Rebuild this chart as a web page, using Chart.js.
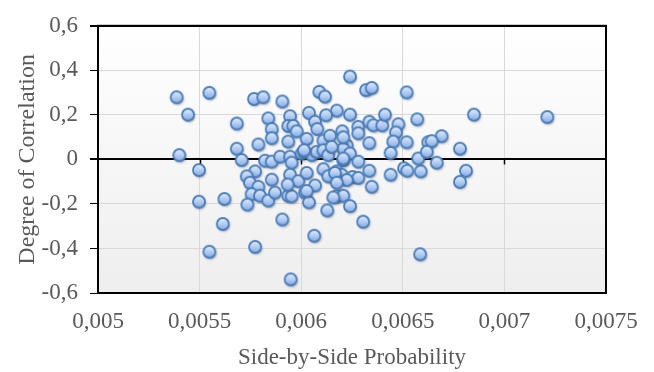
<!DOCTYPE html>
<html lang="en">
<head>
    <meta charset="UTF-8">
    <title>Side-by-Side Probability vs Degree of Correlation</title>
    <script src="https://cdn.jsdelivr.net/npm/chart.js"></script>
    <style>
        body { margin: 0; background: #fff; }
    </style>
</head>
<body>
    <canvas id="scatterChart" width="654" height="372"></canvas>
    <script>
        // values
        const sideBySide = [
            0.005387, 0.005548, 0.005443, 0.005400, 0.005497, 0.005497, 0.005622, 0.005614, 0.005548, 0.005683,
            0.005683, 0.005768, 0.005813, 0.005907, 0.006089, 0.006117, 0.005838, 0.005855, 0.005855, 0.005945,
            0.005936, 0.005961, 0.005978, 0.005936, 0.006038, 0.006068, 0.006079, 0.006027, 0.006109, 0.005789,
            0.005707, 0.005822, 0.005855, 0.005896, 0.005945, 0.005953, 0.006002, 0.006014, 0.006052, 0.006076,
            0.005773, 0.005732, 0.005748, 0.005789, 0.005855, 0.005945, 0.005986, 0.006027, 0.006109, 0.005756,
            0.005797, 0.005838, 0.005871, 0.005936, 0.005953, 0.006019, 0.006038, 0.006068, 0.005735, 0.006128,
            0.005907, 0.006064, 0.005773, 0.005948, 0.006240, 0.006319, 0.006347, 0.006519, 0.006175, 0.006240,
            0.006281, 0.006281, 0.006335, 0.006355, 0.006399, 0.006412, 0.006478, 0.006466, 0.006453, 0.006519,
            0.006571, 0.006625, 0.006335, 0.006440, 0.006202, 0.006224, 0.006207, 0.006240, 0.006207, 0.006281,
            0.006175, 0.006199, 0.006150, 0.006335, 0.006440, 0.006506, 0.006522, 0.006588, 0.006253, 0.006281,
            0.006224, 0.006347, 0.006175, 0.006207, 0.006240, 0.006305, 0.006585, 0.006850, 0.007211, 0.006691,
            0.006642, 0.006781, 0.006667, 0.006811, 0.006781, 0.006122, 0.006142, 0.006576, 0.006618, 0.006109,
            0.006133, 0.006150, 0.006133, 0.006166, 0.006175, 0.006158, 0.005933, 0.006027, 0.006207, 0.006014,
            0.006207
        ];
        const correlation = [
            0.279, 0.299, 0.201, 0.019, -0.048, -0.190, -0.178, -0.290, -0.415, 0.161,
            0.048, 0.271, 0.279, 0.260, 0.303, 0.282, 0.184, 0.136, 0.095, 0.194,
            0.150, 0.150, 0.126, 0.080, 0.209, 0.169, 0.136, 0.092, 0.084, 0.067,
            -0.003, -0.006, -0.010, 0.012, 0.012, -0.015, 0.026, 0.034, 0.019, 0.034,
            -0.054, -0.076, -0.105, -0.123, -0.091, -0.069, -0.098, -0.061, -0.044, -0.156,
            -0.163, -0.185, -0.149, -0.163, -0.166, -0.149, -0.193, -0.117, -0.203, -0.229,
            -0.270, -0.343, -0.393, -0.539, 0.372, 0.311, 0.321, 0.301, 0.219, 0.201,
            0.146, 0.117, 0.169, 0.153, 0.153, 0.201, 0.158, 0.121, 0.080, 0.077,
            0.180, 0.077, 0.073, 0.029, 0.126, 0.063, 0.048, 0.026, -0.003, -0.010,
            -0.054, -0.069, -0.076, -0.051, -0.069, -0.040, -0.051, -0.054, -0.079, -0.083,
            -0.093, -0.123, -0.166, -0.163, -0.210, -0.280, -0.426, 0.201, 0.190, 0.104,
            0.082, 0.048, -0.015, -0.051, -0.101, 0.198, 0.106, 0.004, 0.034, 0.041,
            0.019, 0.056, -0.076, -0.061, -0.105, -0.171, -0.113, -0.142, 0.099, 0.041,
            0.004
        ];
        const xTicks = [0.005, 0.0055, 0.006, 0.0065, 0.007, 0.0075];
        const yTicks = [-0.6, -0.4, -0.2, 0, 0.2, 0.4, 0.6];

        const points = sideBySide.map((x, i) => ({ x: x, y: correlation[i] }));

        // marker: light blue bubble with dark blue rim and a soft shadow
        function makeMarker() {
            const c = document.createElement('canvas');
            c.width = 20;
            c.height = 20;
            const g = c.getContext('2d');
            const r = 6;
            g.save();
            g.shadowColor = 'rgba(0,0,0,0.4)';
            g.shadowBlur = 2.5;
            g.shadowOffsetX = 1;
            g.shadowOffsetY = 1.5;
            g.beginPath();
            g.arc(10, 10, r, 0, Math.PI * 2);
            g.fillStyle = '#8fb5ea';
            g.fill();
            g.restore();
            const grad = g.createLinearGradient(0, 10 - r, 0, 10 + r);
            grad.addColorStop(0, '#e4eefd');
            grad.addColorStop(1, '#82aae6');
            g.beginPath();
            g.arc(10, 10, r, 0, Math.PI * 2);
            g.fillStyle = grad;
            g.fill();
            g.lineWidth = 1.8;
            g.strokeStyle = '#4a7ebb';
            g.stroke();
            return c;
        }

        const near = (a, b) => Math.abs(a - b) < 1e-9;
        const fmt = (v, d) => String(Number(v.toFixed(d))).replace('.', ',');

        const plotFrame = {
            id: 'plotFrame',
            beforeDatasetsDraw(chart) {
                const { ctx, chartArea: a, scales } = chart;
                ctx.save();
                // zero line ticks
                const y0 = scales.y.getPixelForValue(0);
                ctx.strokeStyle = '#000';
                ctx.lineWidth = 1.5;
                xTicks.slice(1, -1).forEach(v => {
                    const px = Math.round(scales.x.getPixelForValue(v)) + 0.5;
                    ctx.beginPath();
                    ctx.moveTo(px, y0);
                    ctx.lineTo(px, y0 + 5);
                    ctx.stroke();
                });
                // box around the plot area
                ctx.lineWidth = 2;
                ctx.strokeRect(a.left, a.top, a.right - a.left, a.bottom - a.top);
                ctx.restore();
            },
            beforeDraw(chart) {
                const { ctx, chartArea: a } = chart;
                const grad = ctx.createLinearGradient(0, a.top, 0, a.bottom);
                grad.addColorStop(0, '#ffffff');
                grad.addColorStop(1, '#eeeeee');
                ctx.save();
                ctx.fillStyle = grad;
                ctx.fillRect(a.left, a.top, a.right - a.left, a.bottom - a.top);
                ctx.restore();
            }
        };

        const font = { family: "'Liberation Serif', 'Times New Roman', serif", size: 23 };
        const titleFont = { family: "'Liberation Serif', 'Times New Roman', serif", size: 24 };
        const textColor = '#595959';

        new Chart(document.getElementById('scatterChart'), {
            type: 'scatter',
            data: {
                datasets: [{
                    data: points,
                    pointStyle: makeMarker(),
                    pointRadius: 6
                }]
            },
            options: {
                responsive: false,
                animation: false,
                layout: { padding: { top: 19, right: 48, left: 0, bottom: 0 } },
                plugins: {
                    legend: { display: false },
                    tooltip: { enabled: false }
                },
                scales: {
                    x: {
                        type: 'linear',
                        min: 0.005,
                        max: 0.0075,
                        afterFit: s => { s.height = 79; },
                        afterBuildTicks: s => { s.ticks = xTicks.map(v => ({ value: v })); },
                        ticks: {
                            font: font,
                            color: textColor,
                            padding: 15,
                            maxRotation: 0,
                            callback: v => fmt(v, 4)
                        },
                        grid: {
                            drawTicks: false,
                            color: c => near(c.tick.value, 0.0075) ? '#000' : '#d9d9d9',
                            lineWidth: c => near(c.tick.value, 0.0075) ? 2 : 1
                        },
                        border: { color: '#000', width: 2 },
                        title: {
                            display: true,
                            text: 'Side-by-Side Probability',
                            font: font,
                            color: textColor,
                            padding: { top: 0, bottom: 0 }
                        }
                    },
                    y: {
                        type: 'linear',
                        min: -0.6,
                        max: 0.6,
                        afterFit: s => { s.width = 98; },
                        afterBuildTicks: s => { s.ticks = yTicks.map(v => ({ value: v })); },
                        ticks: {
                            font: font,
                            color: textColor,
                            padding: 12,
                            callback: v => fmt(v, 1)
                        },
                        grid: {
                            drawTicks: true,
                            tickLength: 8,
                            tickColor: '#000',
                            color: c => (near(c.tick.value, 0) || near(c.tick.value, 0.6)) ? '#000' : '#d9d9d9',
                            lineWidth: c => (near(c.tick.value, 0) || near(c.tick.value, 0.6)) ? 2 : 1
                        },
                        border: { color: '#000', width: 2 },
                        title: {
                            display: true,
                            text: 'Degree of Correlation',
                            font: titleFont,
                            color: textColor,
                            padding: { top: 13, bottom: 0 }
                        }
                    }
                }
            },
            plugins: [plotFrame]
        });
    </script>
</body>
</html>
